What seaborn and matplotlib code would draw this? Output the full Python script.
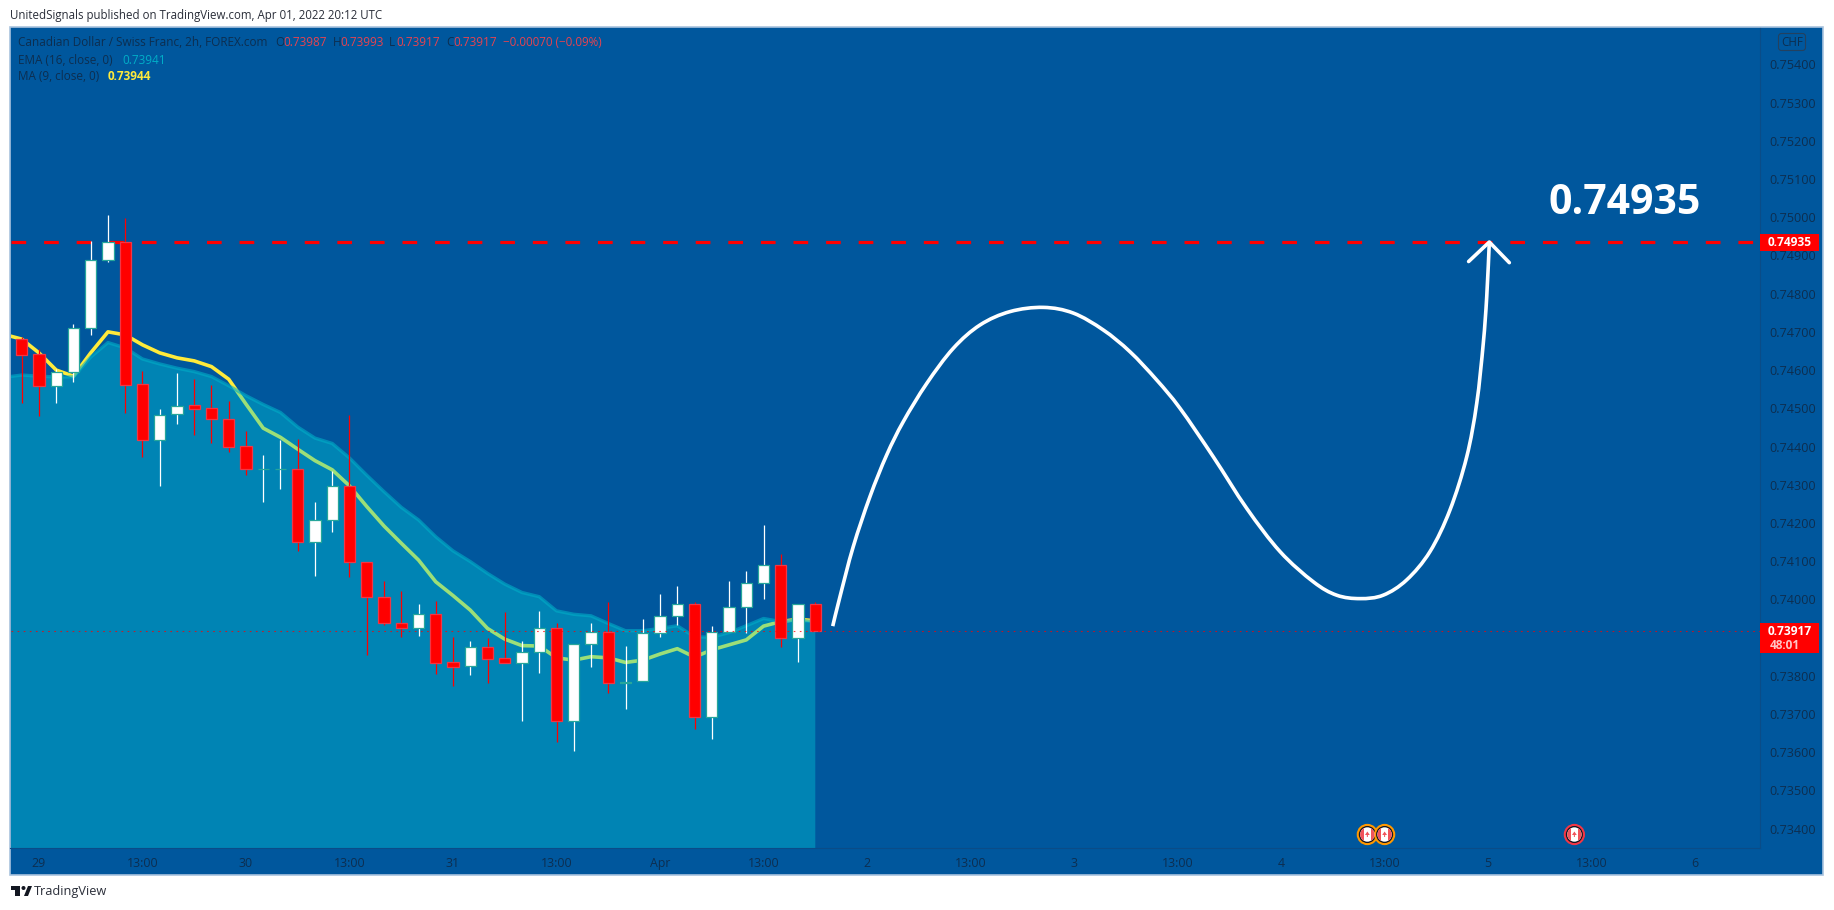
import numpy as np
import pandas as pd
import seaborn as sns
import matplotlib.pyplot as plt
from matplotlib.patches import Rectangle, Circle, Polygon, FancyBboxPatch, PathPatch
from matplotlib.path import Path
from matplotlib.transforms import Affine2D

# CAD/CHF 2h candles
open_ = [0.74680, 0.74641, 0.74558, 0.74596, 0.74709, 0.74887, 0.74934, 0.74563, 0.74416, 0.74484,
         0.74508, 0.74500, 0.74471, 0.74401, 0.74340, 0.74340, 0.74340, 0.74149, 0.74207, 0.74296,
         0.74097, 0.74005, 0.73937, 0.73924, 0.73961, 0.73836, 0.73825, 0.73875, 0.73846, 0.73833,
         0.73862, 0.73924, 0.73681, 0.73883, 0.73915, 0.73781, 0.73786, 0.73911, 0.73956, 0.73987,
         0.73691, 0.73915, 0.73979, 0.74042, 0.74089, 0.73898, 0.73987]
high_ = [0.74686, 0.74654, 0.74603, 0.74721, 0.74938, 0.75006, 0.74999, 0.74598, 0.74498, 0.74592,
         0.74577, 0.74560, 0.74518, 0.74441, 0.74378, 0.74417, 0.74420, 0.74255, 0.74336, 0.74482,
         0.74097, 0.74047, 0.74022, 0.73988, 0.73996, 0.73901, 0.73891, 0.73900, 0.73967, 0.73891,
         0.73970, 0.73937, 0.73883, 0.73937, 0.73993, 0.73878, 0.73949, 0.74014, 0.74035, 0.73994,
         0.73930, 0.74048, 0.74074, 0.74195, 0.74119, 0.73987, 0.73993]
low_ = [0.74515, 0.74481, 0.74515, 0.74569, 0.74692, 0.74884, 0.74488, 0.74373, 0.74297, 0.74459,
        0.74430, 0.74408, 0.74386, 0.74325, 0.74256, 0.74290, 0.74127, 0.74062, 0.74177, 0.74058,
        0.73854, 0.73933, 0.73902, 0.73905, 0.73805, 0.73773, 0.73803, 0.73780, 0.73833, 0.73683,
        0.73808, 0.73628, 0.73602, 0.73824, 0.73754, 0.73713, 0.73786, 0.73902, 0.73933, 0.73662,
        0.73636, 0.73915, 0.73913, 0.74002, 0.73876, 0.73837, 0.73917]
close_ = [0.74640, 0.74558, 0.74596, 0.74709, 0.74887, 0.74934, 0.74562, 0.74416, 0.74483, 0.74507,
          0.74499, 0.74471, 0.74400, 0.74340, 0.74340, 0.74340, 0.74149, 0.74207, 0.74296, 0.74097,
          0.74005, 0.73937, 0.73924, 0.73961, 0.73834, 0.73824, 0.73875, 0.73845, 0.73833, 0.73862,
          0.73924, 0.73681, 0.73883, 0.73915, 0.73780, 0.73785, 0.73911, 0.73956, 0.73987, 0.73691,
          0.73915, 0.73979, 0.74042, 0.74089, 0.73898, 0.73987, 0.73917]

# indicators start one bar before the first candle shown
ma_values = [0.74693, 0.74681, 0.74645, 0.74600, 0.74584, 0.74645, 0.74700, 0.74692, 0.74666, 0.74645,
             0.74632, 0.74624, 0.74609, 0.74576, 0.74511, 0.74448, 0.74424, 0.74393, 0.74363, 0.74339,
             0.74297, 0.74243, 0.74192, 0.74147, 0.74103, 0.74046, 0.74010, 0.73972, 0.73924, 0.73896,
             0.73879, 0.73878, 0.73847, 0.73841, 0.73850, 0.73847, 0.73835, 0.73841, 0.73857, 0.73871,
             0.73849, 0.73868, 0.73881, 0.73894, 0.73930, 0.73942, 0.73948, 0.73944]
ema_values = [0.74581, 0.74587, 0.74584, 0.74582, 0.74582, 0.74634, 0.74672, 0.74658, 0.74629, 0.74616,
              0.74605, 0.74596, 0.74583, 0.74559, 0.74533, 0.74510, 0.74489, 0.74451, 0.74422, 0.74408,
              0.74370, 0.74325, 0.74282, 0.74241, 0.74208, 0.74164, 0.74127, 0.74099, 0.74068, 0.74040,
              0.74018, 0.74007, 0.73970, 0.73961, 0.73957, 0.73937, 0.73918, 0.73918, 0.73924, 0.73931,
              0.73902, 0.73901, 0.73913, 0.73931, 0.73950, 0.73942, 0.73946, 0.73941]

# hand drawn projection
path_bars = [47.01, 47.43, 48.20, 49.17, 50.14, 51.10, 52.46, 54.00, 55.55, 57.29, 59.22, 60.96, 62.69,
             64.24, 65.79, 67.14, 69.07, 71.01, 72.94, 74.87, 76.22, 77.58, 78.92, 80.28, 81.63, 82.79,
             83.76, 84.34, 84.72, 84.92, 85.07]
path_prices = [0.73930, 0.74007, 0.74138, 0.74269, 0.74378, 0.74465, 0.74565, 0.74657, 0.74718, 0.74753,
               0.74764, 0.74749, 0.74705, 0.74648, 0.74574, 0.74500, 0.74373, 0.74238, 0.74125, 0.74046,
               0.74011, 0.74002, 0.74011, 0.74051, 0.74125, 0.74234, 0.74373, 0.74513, 0.74670, 0.74792,
               0.74935]
head_bars = [83.87, 85.07, 86.23]
head_prices = [0.74884, 0.74935, 0.74881]

target_price = 0.74935
last_price = 0.73917
event_bars = [78, 79, 90]
event_rings = ["#FF9800", "#FF9800", "#F23645"]

# 0.73900 is hidden behind the last price tag in the original
price_ticks = [0.734, 0.735, 0.736, 0.737, 0.738, 0.740, 0.741, 0.742, 0.743, 0.744,
               0.745, 0.746, 0.747, 0.748, 0.749, 0.750, 0.751, 0.752, 0.753, 0.754]
time_ticks = [1, 7, 13, 19, 25, 31, 37, 43, 49, 55, 61, 67, 73, 79, 85, 91, 97]
time_labels = ["29", "13:00", "30", "13:00", "31", "13:00", "Apr", "13:00", "2", "13:00",
               "3", "13:00", "4", "13:00", "5", "13:00", "6"]

BG = "#00579D"
AXIS_TEXT = "#0D2E50"
W, H = 1834, 910
# pixel coordinates of the reference, origin top left
px = Affine2D().scale(1, -1).translate(0, H)

sns.set_theme(style="white")
plt.rcParams["font.family"] = ["Open Sans", "DejaVu Sans"]

df = pd.DataFrame({"open": open_, "high": high_, "low": low_, "close": close_})
df["bar"] = np.arange(len(df))
up = df[df["close"] >= df["open"]]
down = df[df["close"] < df["open"]]
line_bars = np.arange(-1, len(df))


def smooth_path(xs, ys):
    # bezier segments through the read points so the brush stroke has no corners
    p = np.column_stack([xs, ys])
    verts = [p[0]]
    codes = [Path.MOVETO]
    for i in range(len(p) - 1):
        before = p[max(i - 1, 0)]
        after = p[min(i + 2, len(p) - 1)]
        verts += [p[i] + (p[i + 1] - before) / 6, p[i + 1] - (after - p[i]) / 6, p[i + 1]]
        codes += [Path.CURVE4] * 3
    return Path(verts, codes)


fig = plt.figure(figsize=(W / 100, H / 100), dpi=100, facecolor="white")
fig.add_artist(Rectangle((10, 27), 1813, 848, transform=px, facecolor=BG, edgecolor="#A9C3DE",
                         linewidth=1.2, zorder=-1))

ax = fig.add_axes([10.5 / W, 1 - 848 / H, 1749.5 / W, 820.5 / H])
ax.set_facecolor("none")

sns.lineplot(x=line_bars, y=ma_values, ax=ax, color="#FFEB3B", linewidth=2.6, estimator=None,
             sort=False, zorder=1)
ax.fill_between(line_bars, ema_values, 0.7, color="#00CDDA", alpha=0.39, linewidth=0, zorder=2)
sns.lineplot(x=line_bars, y=ema_values, ax=ax, color="#00AEC8", linewidth=2.4, alpha=0.6,
             estimator=None, sort=False, zorder=2.1)

ax.axhline(target_price, color="#FF0000", linewidth=2.3, dashes=(4.6, 5.6), dash_capstyle="butt", zorder=3)

# candles
ax.vlines(up["bar"], up["low"], up["high"], color="white", linewidth=0.9, zorder=4)
ax.vlines(down["bar"], down["low"], down["high"], color="#FF0000", linewidth=0.9, zorder=4)
ax.bar(up["bar"], up["close"] - up["open"], bottom=up["open"], width=0.655, color="white",
       edgecolor="#26A69A", linewidth=0.9, zorder=5)
ax.bar(down["bar"], down["close"] - down["open"], bottom=down["open"], width=0.655, color="#FF0000",
       edgecolor="#F23645", linewidth=0.9, zorder=5)

ax.axhline(last_price, color="#FF0000", linewidth=0.8, linestyle=(0, (1.5, 4)), alpha=0.75, zorder=6)

ax.add_patch(PathPatch(smooth_path(path_bars, path_prices), facecolor="none", edgecolor="white",
                       linewidth=2.6, capstyle="butt", zorder=7))
sns.lineplot(x=head_bars, y=head_prices, ax=ax, color="white", linewidth=2.6, estimator=None,
             sort=False, zorder=7)

ax.set_xlim(-0.65, 100.76)
ax.set_ylim(0.733495, 0.754963)
ax.set_xlabel("")
ax.set_ylabel("")
ax.yaxis.tick_right()
ax.set_yticks(price_ticks)
ax.set_yticklabels([f"{t:.5f}" for t in price_ticks])
ax.set_xticks(time_ticks)
ax.set_xticklabels(time_labels)
ax.tick_params(axis="y", length=0, pad=6.6, labelsize=9.1, labelcolor=AXIS_TEXT)
ax.tick_params(axis="x", length=0, pad=6.4, labelsize=8.9, labelcolor=AXIS_TEXT)
for side in ["left", "top"]:
    ax.spines[side].set_visible(False)
for side in ["right", "bottom"]:
    ax.spines[side].set_color("#0A4C88")
    ax.spines[side].set_linewidth(0.8)


def put_text(x, y, s, color=AXIS_TEXT, size=8.6, weight="normal", ha="left"):
    fig.text(x, y, s, transform=px, color=color, fontsize=size, fontweight=weight, ha=ha,
             va="center", zorder=10)


# header and legend
put_text(10, 15, "UnitedSignals published on TradingView.com, Apr 01, 2022 20:12 UTC", color="#2A2E39", size=8.3)
put_text(18, 43, "Canadian Dollar / Swiss Franc, 2h, FOREX.com", size=8.5)
legend_red = "#E8434F"
for letter, lx, value, vx in [("O", 275, "0.73987", 283), ("H", 333, "0.73993", 340),
                              ("L", 389, "0.73917", 396), ("C", 446, "0.73917", 453)]:
    put_text(lx, 43, letter, size=8.5)
    put_text(vx, 43, value, color=legend_red, size=8.5)
put_text(503, 43, "\u22120.00070 (\u22120.09%)", color=legend_red, size=8.3)
put_text(18, 60, "EMA (16, close, 0)", size=8.5)
put_text(122, 60, "0.73941", color="#00AEC8", size=8.5)
put_text(18, 77, "MA (9, close, 0)", size=8.5)
put_text(108, 77, "0.73944", color="#FFEB3B", size=8.5, weight="bold")

# price axis tags
fig.add_artist(FancyBboxPatch((1780, 35), 24, 14, boxstyle="round,pad=1.5,rounding_size=3", transform=px,
                              facecolor="none", edgecolor="#24415F", linewidth=0.8, zorder=9))
put_text(1792, 42.5, "CHF", size=8.4, ha="center")
fig.add_artist(Rectangle((1760, 234), 59, 17, transform=px, facecolor="#FF0000", linewidth=0, zorder=9))
put_text(1790, 242.5, "0.74935", color="white", size=8.6, weight="bold", ha="center")
fig.add_artist(Rectangle((1760, 623), 59, 30, transform=px, facecolor="#FF0000", linewidth=0, zorder=9))
put_text(1790, 631.5, "0.73917", color="white", size=8.6, weight="bold", ha="center")
put_text(1770, 645.5, "48:01", color="#FFC4C4", size=8.6, weight="bold")

put_text(1625, 203, "0.74935", color="white", size=29.5, weight="bold", ha="center")

# calendar events on the time axis
bar_to_px = lambda b: 21.7 + 17.252 * b
for b, ring in zip(event_bars, event_rings):
    cx, cy = bar_to_px(b), 834.5
    fig.add_artist(Circle((cx, cy), 9.6, transform=px, facecolor="#131722", edgecolor=ring,
                          linewidth=1.5, zorder=6))
    face = Circle((cx, cy), 7.2, transform=px, facecolor="white", linewidth=0, zorder=7)
    fig.add_artist(face)
    for sx in [cx - 8, cx + 3.6]:
        side = Rectangle((sx, cy - 8), 4.4, 16, transform=px, facecolor="#F0535A", linewidth=0, zorder=8)
        fig.add_artist(side)
        side.set_clip_path(face)
    fig.add_artist(Polygon([(cx, cy - 3), (cx + 2.4, cy + 0.5), (cx + 0.5, cy + 0.5), (cx + 0.5, cy + 2.5),
                            (cx - 0.5, cy + 2.5), (cx - 0.5, cy + 0.5), (cx - 2.4, cy + 0.5)],
                           transform=px, facecolor="#F0535A", linewidth=0, zorder=8))

# TradingView mark
logo = "#131722"
fig.add_artist(Polygon([(11, 886), (20, 886), (20, 896), (15, 896), (15, 890), (11, 890)], transform=px,
                       facecolor=logo, linewidth=0))
fig.add_artist(Polygon([(24, 896), (28, 886), (32, 886), (28, 896)], transform=px, facecolor=logo, linewidth=0))
fig.add_artist(Circle((23.5, 888), 2, transform=px, facecolor=logo, linewidth=0))
put_text(34, 891, "TradingView", color="#2A2E39", size=9.2)

fig.savefig("out.png", dpi=100)
